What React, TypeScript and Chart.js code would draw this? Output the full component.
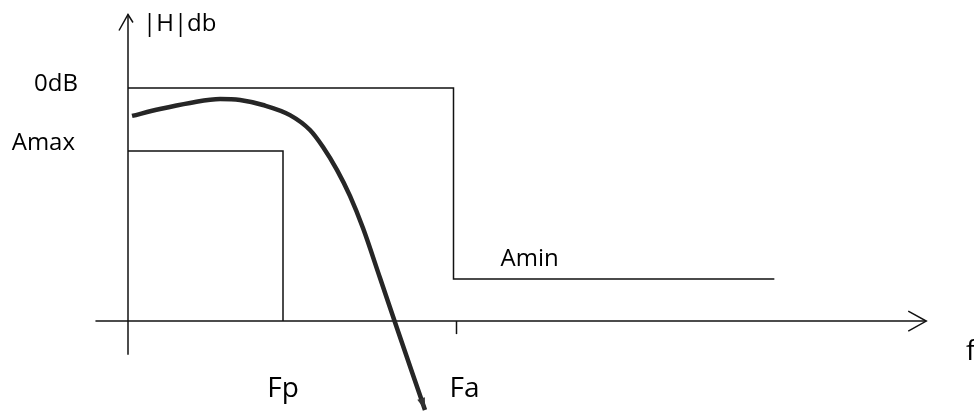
import React, { useEffect, useRef } from "react";
import { Chart, registerables } from "chart.js";

Chart.register(...registerables);

// Normalised frequency (Fp = 1) and gain in dB for the filter template
const FP = 1;
const FA = 2.1;
const F_END = 4.17;
const AMAX = -3;
const AMIN = -9.1;
const BASE = -11.1;

// Measured low-pass response (frequency, gain dB)
const respFreq = [0.026, 0.206, 0.4, 0.594, 0.723, 0.871, 1.045, 1.174, 1.258, 1.348, 1.432, 1.516, 1.626, 1.735, 1.832, 1.916];
const respGain = [-1.33, -1.0, -0.71, -0.52, -0.57, -0.81, -1.29, -2.0, -2.81, -3.9, -5.14, -6.67, -9.05, -11.43, -13.52, -15.33];

// Template outlines
const passFreq = [0, FP, FP];
const passGain = [AMAX, AMAX, BASE];
const stopFreq = [0, FA, FA, F_END];
const stopGain = [0, 0, AMIN, AMIN];

const FONT = "'Open Sans', sans-serif";

const pts = (xs: number[], ys: number[]) => xs.map((x, i) => ({ x, y: ys[i] }));

const diagramPlugin = {
  id: "diagram",
  beforeDatasetsDraw(chart: any) {
    const { ctx, scales } = chart;
    const X = (v: number) => scales.x.getPixelForValue(v);
    const Y = (v: number) => scales.y.getPixelForValue(v);
    ctx.save();
    ctx.strokeStyle = "#111";
    ctx.lineWidth = 1.5;
    // vertical gain axis
    const ax = X(0);
    ctx.beginPath();
    ctx.moveTo(ax, Y(-12.7));
    ctx.lineTo(ax, Y(3.5));
    ctx.stroke();
    ctx.beginPath();
    ctx.moveTo(ax - 9, Y(3.5) + 16);
    ctx.lineTo(ax, Y(3.5));
    ctx.lineTo(ax + 5, Y(3.5) + 8);
    ctx.stroke();
    // horizontal frequency axis
    const by = Y(BASE);
    const xEnd = X(5.15);
    ctx.beginPath();
    ctx.moveTo(X(-0.21), by);
    ctx.lineTo(xEnd, by);
    ctx.stroke();
    ctx.beginPath();
    ctx.moveTo(xEnd - 18, by - 10);
    ctx.lineTo(xEnd, by);
    ctx.lineTo(xEnd - 18, by + 10);
    ctx.stroke();
    // Fa tick
    ctx.beginPath();
    ctx.moveTo(X(FA) + 3, by);
    ctx.lineTo(X(FA) + 3, by + 13);
    ctx.stroke();
    ctx.restore();
  },
  afterDatasetsDraw(chart: any) {
    const { ctx, scales } = chart;
    const X = (v: number) => scales.x.getPixelForValue(v);
    const Y = (v: number) => scales.y.getPixelForValue(v);
    ctx.save();
    // arrow head at the end of the response curve
    const n = respFreq.length;
    const x1 = X(respFreq[n - 2]), y1 = Y(respGain[n - 2]);
    const x2 = X(respFreq[n - 1]), y2 = Y(respGain[n - 1]);
    const a = Math.atan2(y2 - y1, x2 - x1);
    ctx.fillStyle = "#333";
    ctx.beginPath();
    ctx.moveTo(x2, y2);
    ctx.lineTo(x2 - 12 * Math.cos(a) + 4 * Math.sin(a), y2 - 12 * Math.sin(a) - 4 * Math.cos(a));
    ctx.lineTo(x2 - 12 * Math.cos(a) - 4 * Math.sin(a), y2 - 12 * Math.sin(a) + 4 * Math.cos(a));
    ctx.closePath();
    ctx.fill();

    ctx.fillStyle = "#000";
    ctx.textBaseline = "alphabetic";
    const text = (s: string, x: number, y: number, align: CanvasTextAlign, size: number) => {
      ctx.font = `${size}px ${FONT}`;
      ctx.textAlign = align;
      ctx.fillText(s, x, y);
    };
    const ax = X(0);
    text("|H|db", ax + 15, 31, "left", 24);
    text("0dB", ax - 50, Y(0) + 3, "right", 24);
    text("Amax", ax - 53, Y(AMAX) - 1, "right", 24);
    text("Amin", X(FA) + 47, Y(AMIN) - 13, "left", 24);
    text("Fp", X(FP), 397, "center", 28);
    text("Fa", X(FA) - 4, 397, "left", 28);
    text("f", 966, 360, "left", 28);
    ctx.restore();
  },
};

export default function App() {
  const ref = useRef<HTMLCanvasElement | null>(null);
  useEffect(() => {
    if (!ref.current) return;
    const chart = new Chart(ref.current, {
      type: "line",
      data: {
        datasets: [
          {
            label: "Passband",
            data: pts(passFreq, passGain),
            borderColor: "#111",
            borderWidth: 1.5,
            pointRadius: 0,
            tension: 0,
          },
          {
            label: "Stopband",
            data: pts(stopFreq, stopGain),
            borderColor: "#111",
            borderWidth: 1.5,
            pointRadius: 0,
            tension: 0,
          },
          {
            label: "|H|",
            data: pts(respFreq, respGain),
            borderColor: "#262626",
            borderWidth: 4.5,
            pointRadius: 0,
            cubicInterpolationMode: "monotone",
          },
        ],
      },
      options: {
        animation: false,
        responsive: true,
        maintainAspectRatio: false,
        layout: { padding: 0 },
        plugins: { legend: { display: false }, tooltip: { enabled: false } },
        scales: {
          x: { type: "linear", display: false, min: -128 / 155, max: 846 / 155 },
          y: { type: "linear", display: false, min: -326 / 21, max: 88 / 21 },
        },
      },
      plugins: [diagramPlugin],
    });
    return () => chart.destroy();
  }, []);
  return (
    <div style={{ position: "absolute", left: 0, top: 0, width: 974, height: 414, background: "#fff" }}>
      <canvas ref={ref} />
    </div>
  );
}
